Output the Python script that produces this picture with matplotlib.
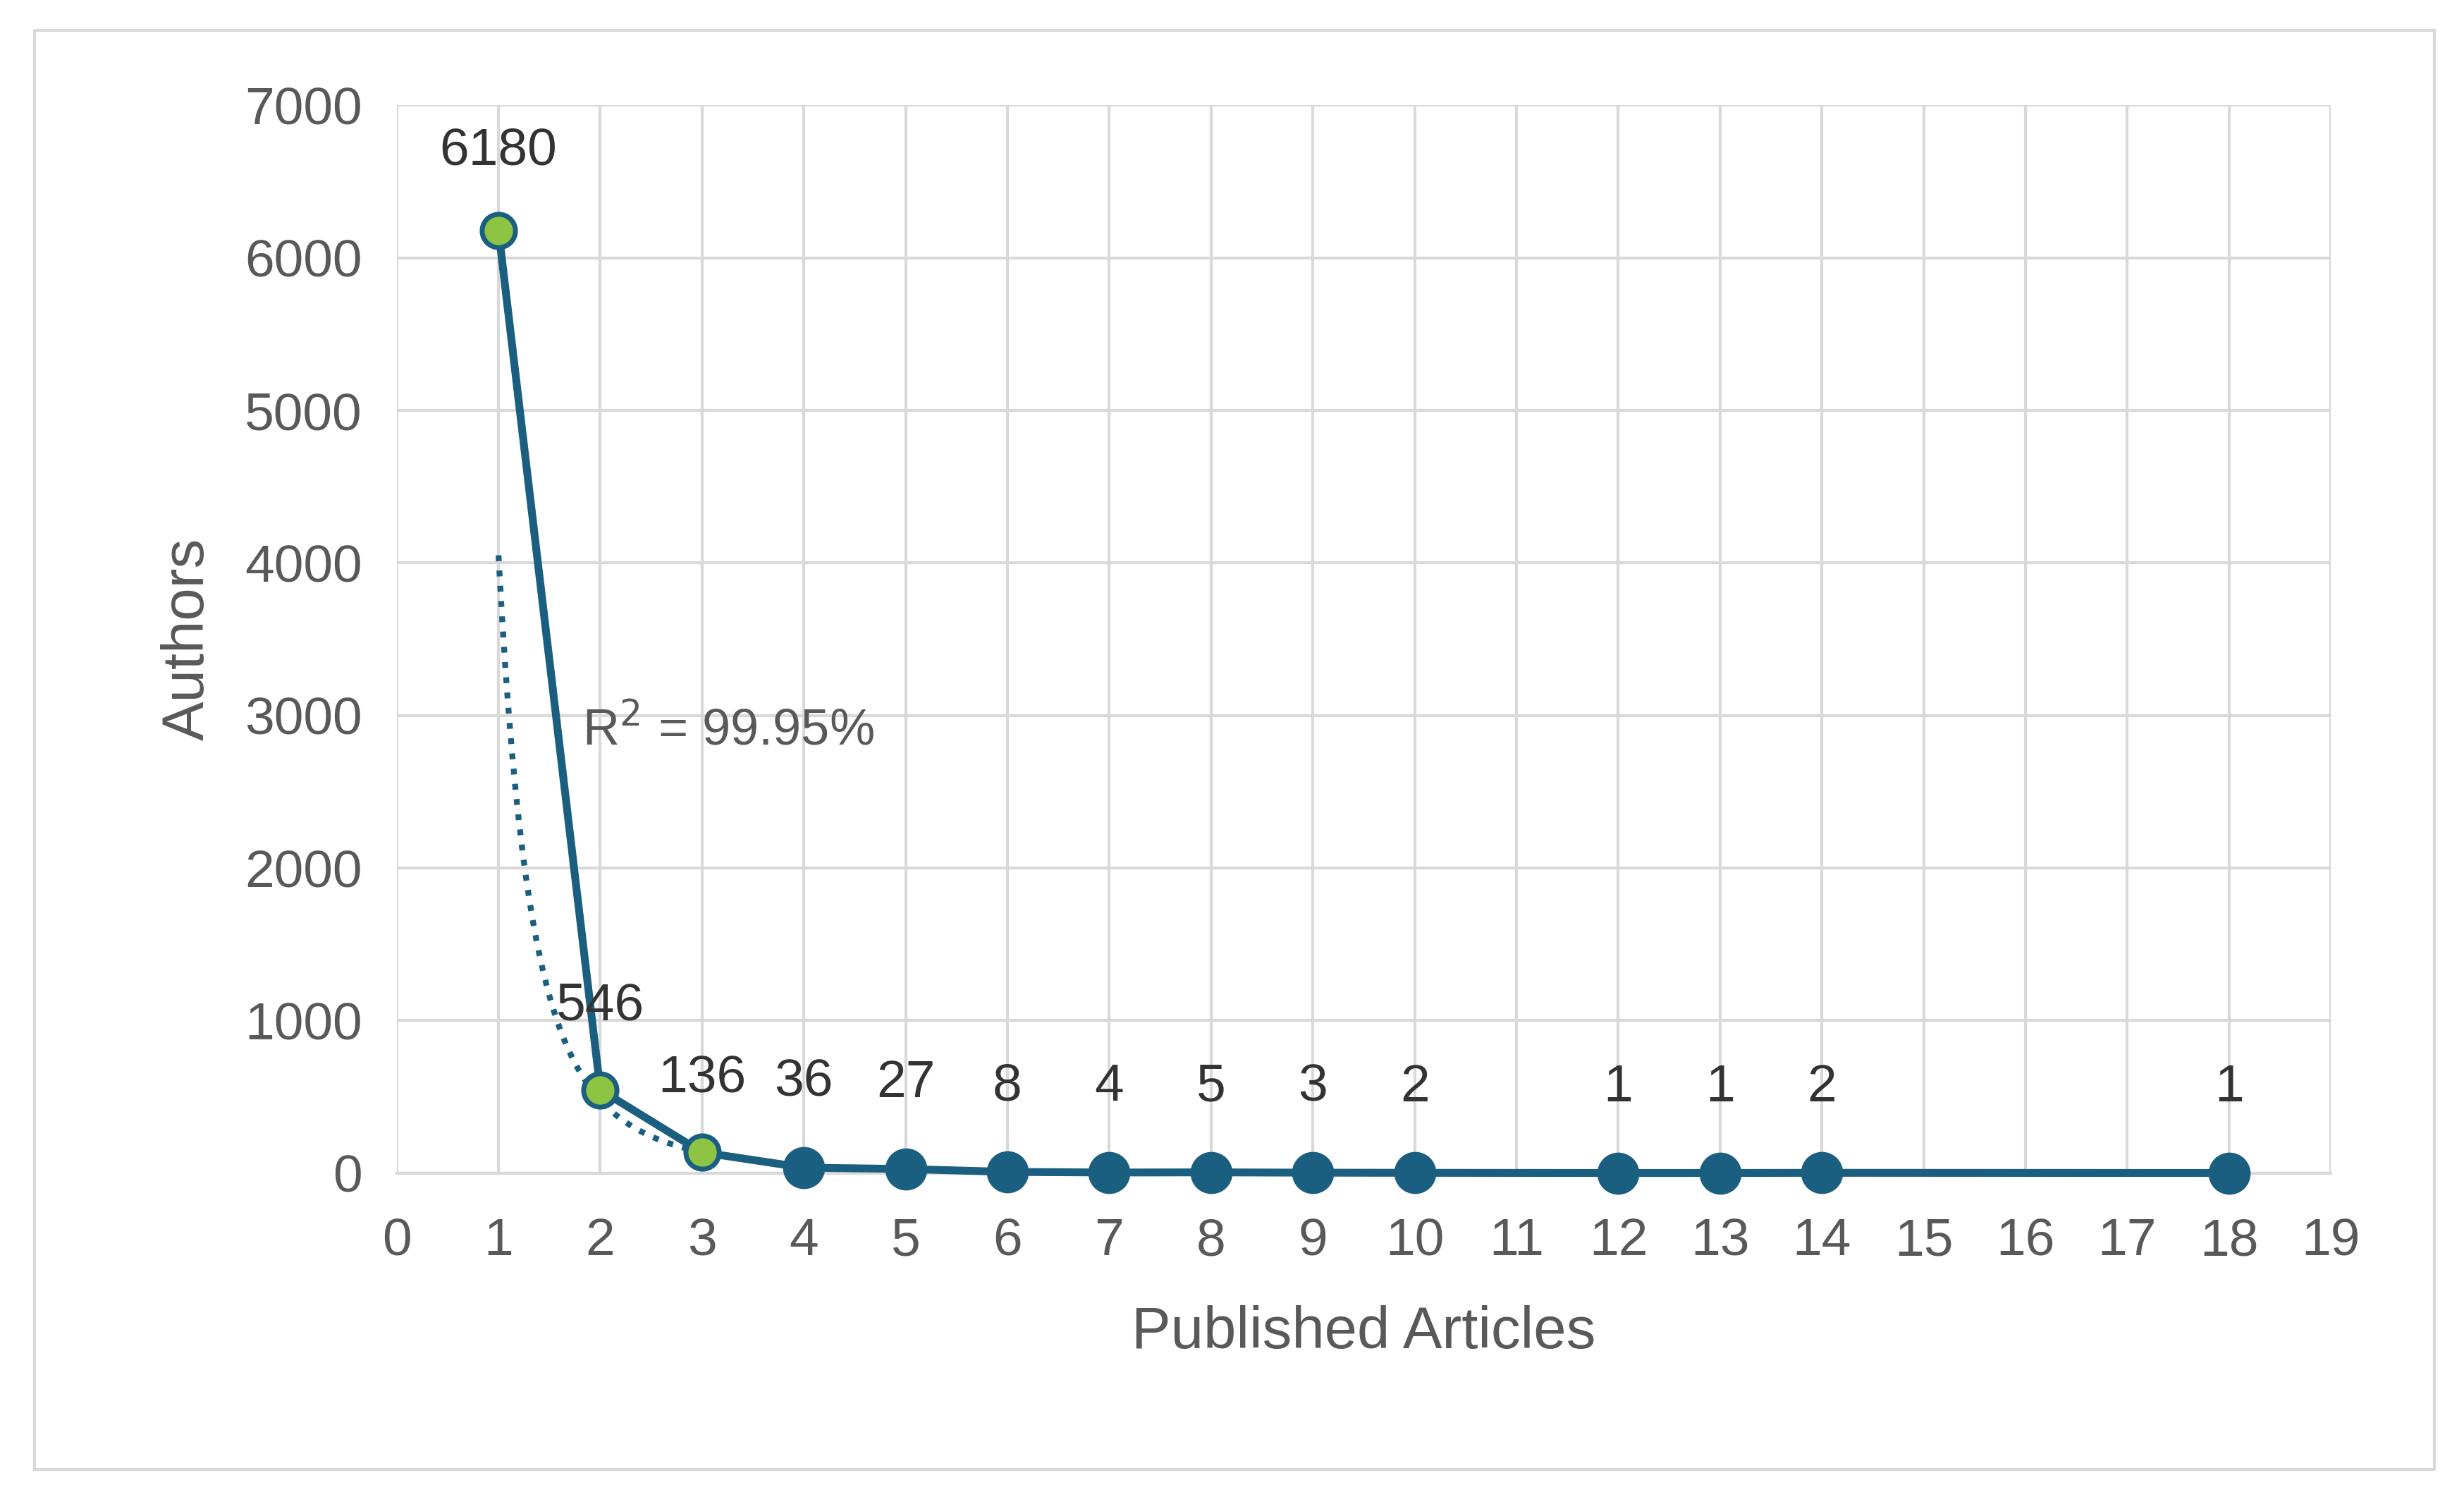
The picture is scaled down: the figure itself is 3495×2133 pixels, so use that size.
import matplotlib.pyplot as plt
from matplotlib.patches import Rectangle
import numpy as np

plt.rcParams['font.family'] = ['Liberation Sans', 'DejaVu Sans']

articles = [1, 2, 3, 4, 5, 6, 7, 8, 9, 10, 12, 13, 14, 18]
authors = [6180, 546, 136, 36, 27, 8, 4, 5, 3, 2, 1, 1, 2, 1]
highlight = [True, True, True] + [False] * 11

# power trend line fitted on the first points
trend_a = 4050
trend_b = -3.08
trend_x = np.linspace(1, 3, 60)

line_col = '#1B5F80'
green = '#8DC443'
gray = '#595959'

fig = plt.figure(figsize=(34.95, 21.33), dpi=100)
fig.add_artist(Rectangle((0.014, 0.023), 0.974, 0.957, transform=fig.transFigure,
                         fill=False, edgecolor='#D9D9D9', linewidth=3))
ax = fig.add_axes([0.161, 0.220, 0.785, 0.710])

ax.plot(trend_x, trend_a * trend_x ** trend_b, linestyle=(0, (1, 1.6)),
        color=line_col, linewidth=6, zorder=2)
ax.plot(articles, authors, color=line_col, linewidth=8, zorder=3, clip_on=False)
for x, y, h in zip(articles, authors, highlight):
    ax.plot(x, y, 'o', markersize=38 if not h else 34,
            markerfacecolor=green if h else line_col,
            markeredgecolor=line_col, markeredgewidth=5, zorder=4, clip_on=False)

offsets = {1: 520, 2: 550, 3: 480}
for x, y in zip(articles, authors):
    ax.text(x, y + offsets.get(x, 560), str(y), ha='center', va='center',
            fontsize=54, color='#333333')

ax.text(1.82, 2900, r'R$^2$ = 99.95%', fontsize=52, color=gray, va='center')

ax.set_xlim(0, 19)
ax.set_ylim(0, 7000)
ax.set_xticks(range(0, 20))
ax.set_yticks(range(0, 7001, 1000))
ax.grid(True, color='#D9D9D9', linewidth=3)
ax.set_axisbelow(True)
for s in ['top', 'right', 'left']:
    ax.spines[s].set_visible(False)
ax.spines['bottom'].set_color('#D9D9D9')
ax.spines['bottom'].set_linewidth(3)
ax.tick_params(length=0, labelsize=54, labelcolor=gray)
ax.tick_params(axis='x', pad=45)
ax.tick_params(axis='y', pad=35)
ax.set_xlabel('Published Articles', fontsize=60, color=gray, labelpad=40)
ax.set_ylabel('Authors', fontsize=60, color=gray, labelpad=30)

fig.savefig('out.png', dpi=100)
